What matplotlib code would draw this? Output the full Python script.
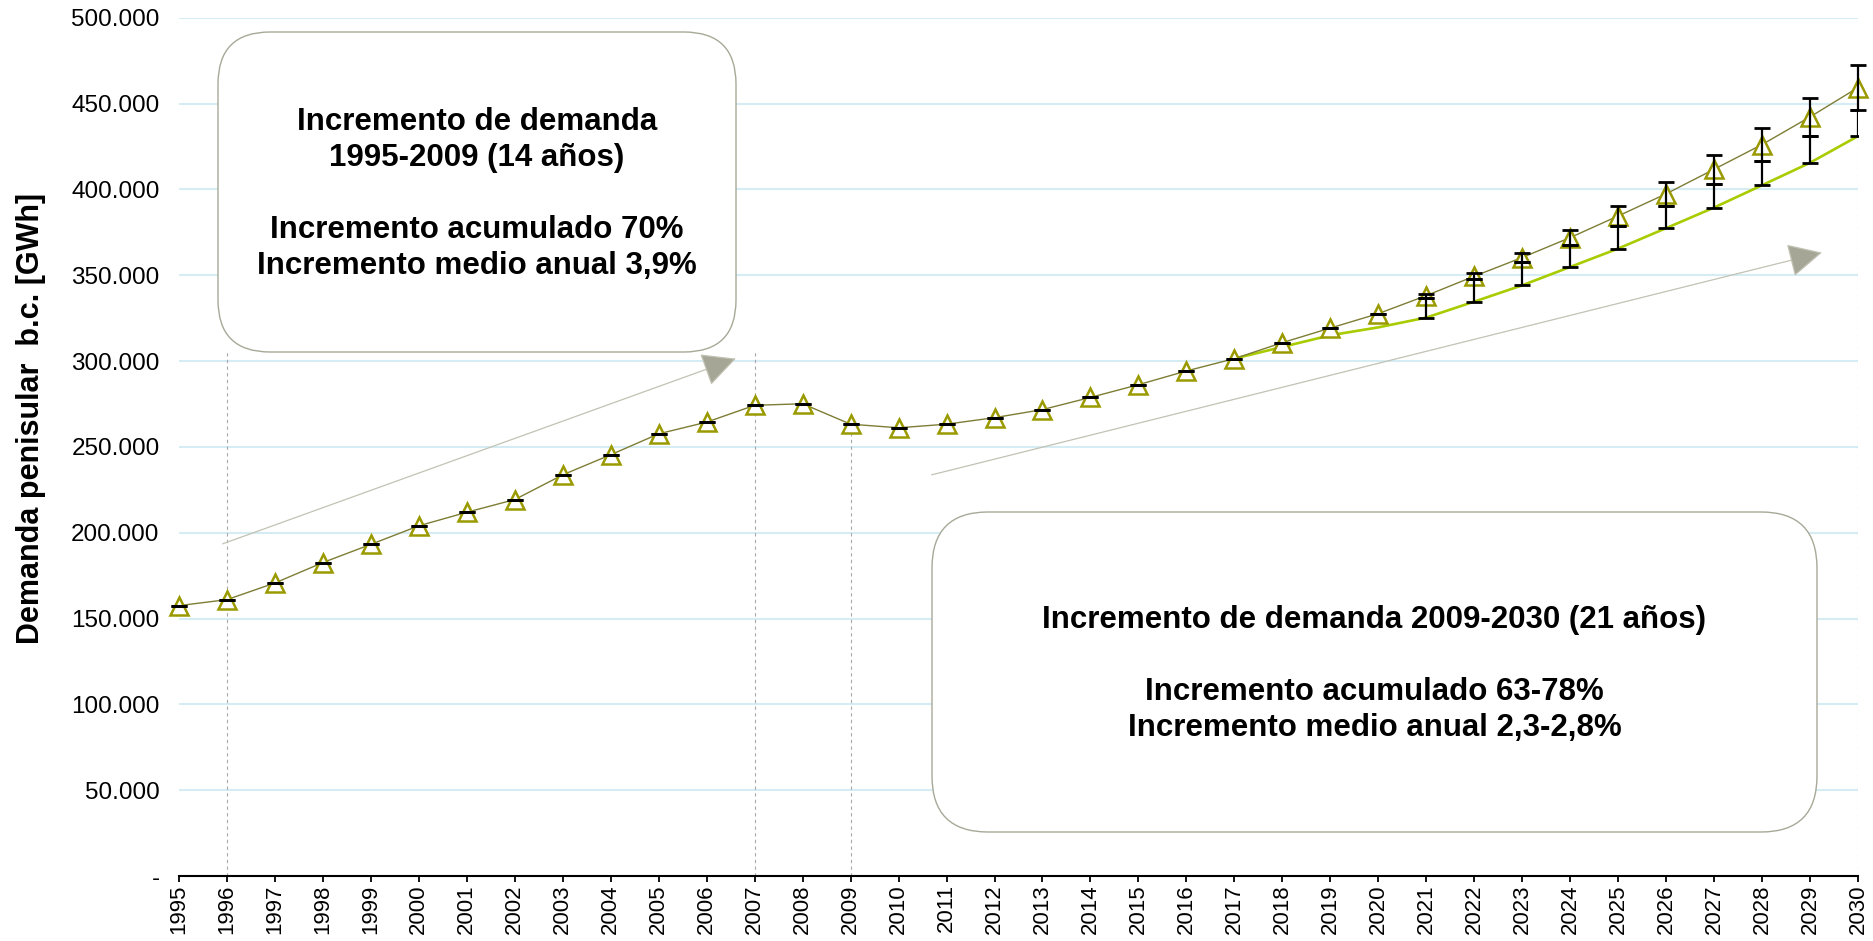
import matplotlib
matplotlib.use("Agg")
import matplotlib.pyplot as plt
from matplotlib.patches import FancyBboxPatch
from matplotlib.transforms import IdentityTransform

plt.rcParams["font.family"] = ["Liberation Sans", "DejaVu Sans"]

# demanda peninsular b.c. [GWh] - escenario superior (historico hasta 2016)
years = list(range(1995, 2031))
demanda_sup = [157500, 161000, 170700, 182600, 193200, 204000, 211900, 219300,
               233700, 245400, 257600, 264400, 274200, 275100, 263200, 261100,
               263200, 267000, 271700, 278800, 286200, 294200, 301400, 310700,
               319200, 327600, 338100, 349400, 360300, 371900, 384500, 397400,
               411700, 426100, 442200, 459300]
# semi-amplitud de la barra de error del escenario superior
err_sup = [0] * 26 + [1200, 1900, 2600, 4300, 5800, 7000, 8300, 9600, 11100, 13100]

# escenario inferior
years_inf = list(range(2017, 2031))
demanda_inf = [301400, 308200, 315000, 319600, 325300, 334600, 344100, 354800,
               365500, 377400, 389400, 402400, 415500, 431000]

yticks = list(range(0, 500001, 50000))

# lineas verticales de referencia (anio, altura)
ref_years = [1996, 2007, 2009, 2030]
ref_tops = [305000, 305000, 258000, 455000]

# flechas de tendencia (inicio -> punta)
arrow_from = [(1995.91, 193500), (2010.69, 233700)]
arrow_to = [(2006.61, 301400), (2029.25, 363200)]

box1_text = ("Incremento de demanda\n1995-2009 (14 años)\n\n"
             "Incremento acumulado 70%\nIncremento medio anual 3,9%")
box2_text = ("Incremento de demanda 2009-2030 (21 años)\n\n"
             "Incremento acumulado 63-78%\nIncremento medio anual 2,3-2,8%")

W, H = 1874, 941
fig = plt.figure(figsize=(W / 100, H / 100), dpi=100)
ax = fig.add_axes([179 / W, 1 - 876 / H, (1858 - 179) / W, (876 - 17.7) / H])

ax.set_xlim(1995, 2030)
ax.set_ylim(0, 500000)

# grid
for v in yticks[1:]:
    ax.axhline(v, color="#d6ecf5", lw=1.5, zorder=0)

# reference lines
ax.vlines(ref_years, 0, ref_tops, colors="#a8a8a8", lw=0.8,
          linestyles=(0, (3, 3)), zorder=1)

# arrows
for a, b in zip(arrow_from, arrow_to):
    ax.annotate("", xy=b, xytext=a,
                arrowprops=dict(arrowstyle="-|>,head_length=0.9,head_width=0.45",
                                mutation_scale=24, lw=0.9,
                                ec="#c2c2b4", fc="#a6a696",
                                shrinkA=0, shrinkB=0),
                zorder=2)

# lower scenario
ax.plot(years_inf, demanda_inf, color="#a8cc00", lw=1.9, zorder=3)

# upper scenario / historical
ax.plot(years, demanda_sup, color="#7d7d35", lw=1.0, zorder=4)
ax.plot(years, demanda_sup, ls="none", marker="^", ms=13.5, mfc="white",
        mec="#9a9a00", mew=1.8, zorder=5, clip_on=False)

# error bars
ax.errorbar(years, demanda_sup, yerr=err_sup, fmt="none", ecolor="black",
            elinewidth=1.6, capsize=5.5, capthick=2.0, zorder=6, clip_on=False)
n_err = 10
yrs_e = years[-n_err:]
low_e = demanda_inf[-n_err:]
up_gap = [s - e - l for s, e, l in zip(demanda_sup[-n_err:], err_sup[-n_err:], low_e)]
ax.errorbar(yrs_e, low_e, yerr=[[0] * n_err, up_gap], fmt="none", ecolor="black",
            elinewidth=1.6, capsize=5.5, capthick=2.0, zorder=6)

# axes styling
for s in ["left", "right", "top"]:
    ax.spines[s].set_visible(False)
ax.spines["bottom"].set_linewidth(1.5)
ax.spines["bottom"].set_zorder(7)

ax.set_yticks(yticks)
ax.set_yticklabels(["-"] + [f"{v:,.0f}".replace(",", ".") for v in yticks[1:]])
ax.tick_params(axis="y", length=0, pad=14, labelsize=17.5)

ax.set_xticks(years)
ax.set_xticklabels([str(y) for y in years], rotation=90)
ax.tick_params(axis="x", direction="out", length=4, width=1.3, pad=2,
               labelsize=16)

fig.text(31 / W, 1 - 418 / H, "Demanda penisular  b.c. [GWh]", rotation=90,
         ha="center", va="center", fontsize=22, fontweight="bold")

# text boxes (pixel coordinates)
def add_box(x0, y0, x1, y1, r, text, fs, ls):
    patch = FancyBboxPatch((x0, H - y1), x1 - x0, y1 - y0,
                           boxstyle=f"round,pad=0,rounding_size={r}",
                           transform=IdentityTransform(), fc="white",
                           ec="#a8a898", lw=1.0, zorder=8)
    fig.patches.append(patch)
    fig.text((x0 + x1) / 2 / W, 1 - ((y0 + y1) / 2 + 2) / H, text,
             ha="center", va="center", fontsize=fs, fontweight="bold",
             linespacing=ls, zorder=9)

add_box(218, 32, 736, 352, 52, box1_text, 22.5, 1.26)
add_box(932, 512, 1817, 832, 56, box2_text, 22.5, 1.25)

fig.savefig("out.png", dpi=100)
